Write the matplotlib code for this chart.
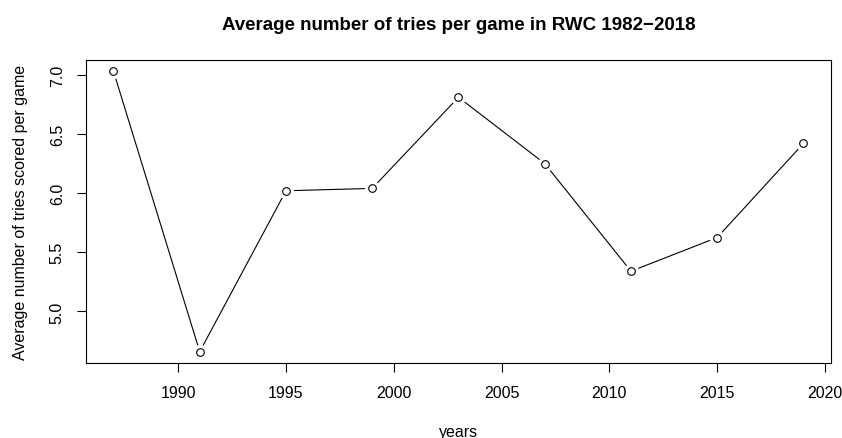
# average tries per game, rugby world cup
import numpy as np
import matplotlib.pyplot as plt

plt.rcParams['font.family'] = ['Liberation Sans', 'DejaVu Sans']

years = [1987, 1991, 1995, 1999, 2003, 2007, 2011, 2015, 2019]
tries = [7.03, 4.66, 6.02, 6.04, 6.81, 6.25, 5.34, 5.625, 6.42]

fig = plt.figure(figsize=(8.42, 4.39), dpi=100)
ax = fig.add_axes([0.102, 0.171, 0.885, 0.690])

# linea con huecos alrededor de los puntos (como type="b" en R)
ax.plot(years, tries, color='black', linewidth=0.8, zorder=1)
ax.plot(years, tries, linestyle='none', marker='o', markersize=10,
        markerfacecolor='white', markeredgecolor='white', zorder=2)
ax.plot(years, tries, linestyle='none', marker='o', markersize=5.5,
        markerfacecolor='none', markeredgecolor='black', markeredgewidth=0.8, zorder=3)

xr = max(years) - min(years)
yr = max(tries) - min(tries)
ax.set_xlim(min(years) - 0.04 * xr, max(years) + 0.04 * xr)
ax.set_ylim(min(tries) - 0.04 * yr, max(tries) + 0.04 * yr)

ax.set_xticks(np.arange(1990, 2021, 5))
ax.set_yticks([5.0, 5.5, 6.0, 6.5, 7.0])
ax.set_yticklabels(['5.0', '5.5', '6.0', '6.5', '7.0'], rotation=90, va='center')
ax.tick_params(direction='out', length=6.7, width=0.8, labelsize=11.5)
ax.tick_params(axis='x', pad=9.5)
ax.tick_params(axis='y', pad=8.5)
for s in ax.spines.values():
    s.set_linewidth(0.8)

ax.set_title('Average number of tries per game in RWC 1982\u22122018',
             fontsize=13.5, fontweight='bold', pad=22)
ax.set_xlabel('years', fontsize=11.5, labelpad=17)
ax.set_ylabel('Average number of tries scored per game', fontsize=11.5, labelpad=16)

fig.savefig('out.png', dpi=100)
